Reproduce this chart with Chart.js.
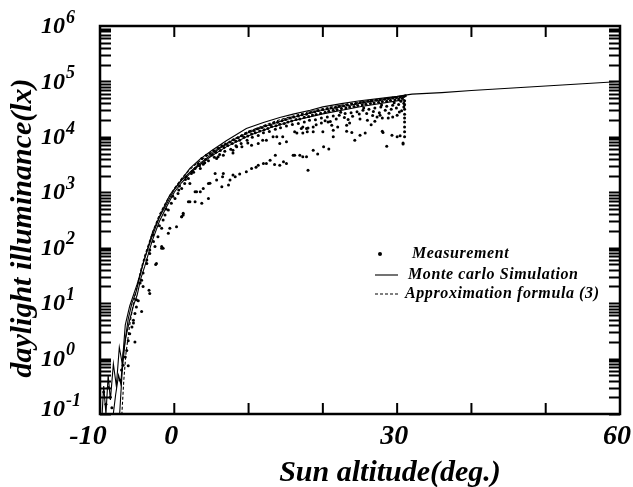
<!DOCTYPE html>
<html>
<head>
<meta charset="utf-8">
<script src="https://cdn.jsdelivr.net/npm/chart.js@4.4.0/dist/chart.umd.min.js"></script>
<style>
  html, body { margin: 0; padding: 0; background: #fff; }
</style>
</head>
<body>
<canvas id="chart" width="633" height="487"></canvas>
<script>
// axis ticks
const xTicks = [-10, 0, 10, 20, 30, 40, 50, 60];
const xLabels = [-10, 0, 30, 60];
const yExponents = [-1, 0, 1, 2, 3, 4, 5, 6];

// measured illuminance [sun altitude (deg), lx]
const measurement = [
  [-9.5, 0.25], [-9.2, 0.15], [-8.9, 0.3], [-8.6, 0.2], [-8.4, 0.13],
  [-7.3, 0.41], [-7.1, 0.62], [-6.9, 0.76], [-6.6, 1.07], [-6.4, 1.4], [-6.2, 2.1], [-6.0, 2.8],
  [-5.7, 3.7], [-5.5, 4.9], [-5.3, 6.5], [-5.1, 8.5], [-4.85, 11],
  [-6.2, 0.74], [-5.3, 2.0], [-4.4, 7.1], [-3.4, 17], [-2.5, 50], [-1.7, 98],
  [-5.5, 4.4], [-5.1, 11.5], [-4.6, 23], [-4.2, 35], [-3.7, 60], [-3.3, 91], [-2.8, 129],
  [-4.2, 20], [-3.3, 15], [-4.4, 26], [-3.7, 52], [-3.3, 79], [-2.4, 52], [-2.6, 105],
  [-1.7, 105], [-2.2, 158], [-1.7, 224], [-1.5, 316], [-1.25, 389], [-0.8, 479], [-0.4, 631],
  [0.1, 776], [0.5, 955], [1.0, 1175], [1.4, 1445], [1.9, 1780], [2.3, 2190], [2.8, 2690],
  [3.2, 3310], [3.7, 4070], [4.3, 4680],
  [-2.9, 170], [-2.0, 250], [-1.1, 500], [-0.2, 850], [0.7, 1300], [1.6, 1900], [2.6, 2300],
  [3.5, 2700], [4.1, 3400],
  [-0.8, 182], [-0.6, 224], [-1.5, 98], [0.3, 240], [1.0, 363], [1.2, 417], [1.9, 676],
  [2.8, 676], [3.7, 631], [4.6, 776], [3.0, 1023], [3.9, 1175], [4.6, 1445], [2.1, 1445],
  [4.8, 5000], [5.3, 5600], [5.9, 6200], [6.4, 6900], [6.9, 7400], [7.5, 8100], [8.0, 8900],
  [8.6, 9600], [9.1, 10500], [9.6, 11500], [10.1, 12300], [10.7, 13000], [11.2, 14000],
  [11.8, 14800], [12.3, 15900], [12.9, 16500], [13.4, 17800], [13.9, 18400], [14.5, 19600],
  [15.0, 20500], [15.6, 21800], [16.1, 22700], [16.7, 23900], [17.2, 25000], [17.8, 25600],
  [18.3, 27500], [18.9, 28300], [19.4, 29800], [20.0, 31200], [20.6, 32000], [21.1, 33500],
  [21.7, 34200], [22.2, 35800], [22.8, 36500], [23.3, 37900], [23.9, 39200], [24.4, 40100],
  [25.0, 41500], [25.5, 42300], [26.1, 43700], [26.6, 44500], [27.2, 45600], [27.7, 46800],
  [28.3, 47900], [28.8, 49000], [29.4, 50300], [29.9, 51400], [30.4, 52600], [30.9, 53700],
  [31.1, 55000],
  [0.6, 1100], [1.5, 1700], [2.4, 2400], [3.4, 3000], [4.2, 3900], [5.1, 4700], [5.6, 5300],
  [6.2, 5700], [6.7, 6400], [7.2, 7000], [7.8, 7600], [8.3, 8300], [8.8, 8700], [9.4, 9800],
  [9.9, 10400], [10.4, 11300], [10.9, 11800], [11.5, 12700], [12.1, 13500], [12.6, 14100],
  [13.1, 15300], [13.7, 15800], [14.2, 16900], [14.8, 17400], [15.3, 18600], [15.8, 19300],
  [16.4, 20500], [16.9, 21100], [17.5, 22600], [18.1, 23300], [18.6, 24700], [19.1, 25400],
  [19.7, 26800], [20.3, 27700], [20.8, 28900], [21.4, 30100], [21.9, 31000], [22.5, 32400],
  [23.1, 33100], [23.6, 34600], [24.2, 35400], [24.7, 36700], [25.3, 37800], [25.8, 38600],
  [26.4, 40100], [26.9, 40800], [27.5, 42200], [28.0, 43400], [28.6, 44100], [29.1, 45900],
  [29.7, 46700], [30.2, 48000], [30.7, 49500],
  [3.9, 3200], [4.6, 3700], [5.4, 4300], [6.1, 4800], [6.8, 5500], [7.6, 6000], [8.3, 6900],
  [9.0, 7600], [9.8, 8700], [10.5, 9800], [11.3, 10600], [12.0, 11800], [12.8, 12500],
  [13.6, 13700], [14.3, 14600], [15.1, 15700], [15.9, 16700], [16.7, 17500], [17.5, 18600],
  [18.2, 19900], [19.0, 20400], [19.8, 21900], [20.6, 22800], [21.4, 23700], [22.2, 24600],
  [23.0, 26500], [23.8, 27200], [24.6, 28400], [25.4, 30100], [26.2, 31500], [27.0, 33000],
  [27.8, 34700], [28.6, 35500], [29.4, 37200], [30.2, 38400], [30.9, 40300],
  [20.3, 19500], [21.8, 21000], [22.9, 22300], [24.0, 23500], [24.9, 25800], [25.9, 26400],
  [26.8, 28700], [27.6, 27300], [28.4, 30200], [29.2, 31600], [29.9, 33100], [30.6, 29500],
  [30.9, 34700], [22.4, 27800], [25.5, 33300], [27.9, 37600], [29.6, 41400], [30.5, 44000],
  [19.1, 16600], [21.0, 19000], [23.4, 20600], [26.7, 24300], [28.9, 26800], [30.3, 28200],
  [31.0, 25700], [31.0, 31600], [31.0, 38000], [31.0, 44700],
  [5.7, 4070], [6.6, 4680], [7.9, 5750], [9.1, 6610], [10.4, 7080], [11.3, 7590], [12.4, 8710],
  [13.8, 10000], [14.2, 7590], [15.1, 8130], [16.2, 12300], [17.1, 14100], [17.8, 14100],
  [8.4, 6610], [9.9, 7760], [11.9, 8710], [13.3, 10000], [14.6, 10000], [16.5, 11700],
  [17.9, 12300], [5.9, 4370], [7.9, 5130],
  [17.3, 15100], [18.0, 14500], [18.7, 15100], [17.3, 11700], [18.7, 12300], [20.0, 12300],
  [21.4, 13200], [19.8, 17800], [20.7, 18600], [21.2, 16200], [22.0, 15100], [23.2, 16200],
  [23.6, 17800], [23.2, 12600], [23.9, 12000], [21.4, 10000], [24.3, 8710], [25.0, 10700],
  [25.7, 11700], [28.0, 12600], [28.1, 12000], [29.3, 10700], [30.0, 10000], [30.4, 10500],
  [30.8, 7410], [30.8, 7760], [31.0, 10000], [31.0, 12300], [31.0, 15100], [31.0, 18600],
  [31.0, 21900], [28.0, 21900], [28.8, 21900], [29.4, 22900], [30.0, 24500], [28.6, 6760],
  [26.0, 20000], [27.0, 19100], [25.0, 20900], [26.5, 16600], [27.3, 22900], [27.7, 24500],
  [1.0, 363], [1.2, 389], [3.5, 1020], [5.7, 1660], [7.9, 2040], [9.7, 2340], [12.4, 3310],
  [14.7, 3550], [16.0, 4680], [17.8, 4370], [18.0, 2510], [17.3, 4370], [18.7, 5750],
  [19.3, 4900], [20.1, 6610], [20.8, 6030], [6.5, 1910], [11.0, 2820], [13.5, 3160],
  [8.8, 2140], [6.6, 2190], [5.5, 2190], [7.5, 1660], [8.2, 1910], [10.4, 2690], [11.3, 3090],
  [12.0, 3310], [12.9, 3800], [13.6, 4680], [14.2, 3090], [15.1, 3310], [16.2, 4680],
  [16.9, 4680], [2.8, 1020], [2.1, 676], [4.8, 1450], [6.4, 1260], [7.3, 1350]
];

// Monte carlo simulation curves [deg, lx]
const simulationA = [
  [-7.4, 0.079], [-7.0, 0.63], [-6.6, 2.2], [-6.2, 5.2], [-5.7, 10], [-5.1, 16.6], [-4.2, 52],
  [-2.9, 195], [-1.7, 447], [-0.6, 891], [0.8, 1580], [2.1, 2700], [3.5, 4000], [5, 5620],
  [7, 8510], [9.7, 14100], [12, 18200], [14.2, 22400], [16, 25700], [18.3, 30200], [20, 34700],
  [22.5, 39800], [25, 44700], [27.5, 49000], [30, 53700], [32, 58900], [36, 62800], [40, 68500],
  [45, 75300], [50, 82800], [55, 91000], [60, 100000]
];
const simulationB = [
  [-9.8, 0.063], [-9.5, 0.32], [-9.2, 0.1], [-8.9, 0.5], [-8.6, 0.18], [-8.2, 0.8], [-7.8, 0.32],
  [-7.4, 1.6], [-7.0, 0.8], [-6.6, 4.0], [-6.0, 8.9], [-5.0, 22], [-4.0, 63], [-3.0, 158],
  [-2.0, 355], [-1.0, 630], [0, 1120], [1, 1660], [2, 2240], [3, 2950], [4, 3800], [6, 6030],
  [8, 8910], [10, 12000], [12, 15100], [14, 18600], [16, 22400], [18, 26300], [20, 30200],
  [22, 33900], [24, 38000], [26, 42700], [28, 46800], [30, 52500], [31, 55000]
];
const simulationC = [
  [-8.3, 0.08], [-7.9, 0.22], [-7.5, 0.5], [-7.2, 0.35], [-6.9, 1.2], [-6.5, 2.5], [-6.0, 5.0],
  [-5.5, 9.0], [-5.0, 14], [-4.5, 28], [-4.0, 45], [-3.0, 130], [-2.0, 300], [-1.0, 560],
  [0, 1000], [1, 1500], [2, 2100], [3, 2800], [4, 3600], [5, 4500], [7, 6600], [10, 10500],
  [13, 14800], [16, 19500], [20, 26000], [25, 35000], [31, 47000]
];

// Approximation formula (3)
const approximation = [
  [-7.1, 0.079], [-6.8, 0.4], [-6.5, 1.26], [-6.0, 4.0], [-5.5, 10], [-5.0, 20], [-4.5, 40],
  [-4.0, 71], [-3.0, 178], [-2.0, 400], [-1.0, 710], [0, 1175], [1, 1780], [2, 2510], [3, 3310],
  [4, 4170], [6, 6310], [8, 9120], [10, 12600], [14, 20000], [18, 28200], [22, 36300],
  [26, 44700], [30, 52500], [31, 54000]
];

const toXY = arr => arr.map(p => ({ x: p[0], y: p[1] }));
const FONT = '"Liberation Serif", "Times New Roman", serif';

const lineSet = (data, dash) => ({
  data: toXY(data),
  showLine: true,
  borderColor: '#000',
  borderWidth: 1.1,
  borderDash: dash || [],
  pointRadius: 0,
  tension: 0
});

const decorations = {
  id: 'decorations',
  afterDraw(chart) {
    const { ctx, chartArea: a, scales: { x, y } } = chart;
    ctx.save();
    ctx.strokeStyle = '#000';
    ctx.fillStyle = '#000';

    // inward ticks
    ctx.lineWidth = 2;
    ctx.beginPath();
    xTicks.forEach(v => {
      const px = x.getPixelForValue(v);
      ctx.moveTo(px, a.bottom); ctx.lineTo(px, a.bottom - 11);
      ctx.moveTo(px, a.top); ctx.lineTo(px, a.top + 11);
    });
    for (let e = -1; e < 6; e++) {
      for (let k = 1; k < 10; k++) {
        const py = Math.round(y.getPixelForValue(k * Math.pow(10, e))) + 0.5;
        ctx.moveTo(a.left, py); ctx.lineTo(a.left + 11, py);
        ctx.moveTo(a.right, py); ctx.lineTo(a.right - 11, py);
      }
    }
    ctx.stroke();

    // frame
    ctx.lineWidth = 2.5;
    ctx.strokeRect(a.left, a.top, a.right - a.left, a.bottom - a.top);

    // y tick labels 10^n
    yExponents.forEach(e => {
      const py = Math.min(y.getPixelForValue(Math.pow(10, e)), a.bottom - 5);
      ctx.font = 'italic bold 24px ' + FONT;
      ctx.textAlign = 'right';
      ctx.textBaseline = 'middle';
      ctx.fillText('10', 65, py + 1);
      ctx.font = 'italic bold 18px ' + FONT;
      ctx.textAlign = 'left';
      ctx.fillText(String(e), 66, py - 8);
    });

    // x tick labels
    ctx.font = 'italic bold 28px ' + FONT;
    ctx.textAlign = 'center';
    ctx.textBaseline = 'middle';
    xLabels.forEach(v => {
      let px = x.getPixelForValue(v) - 3;
      if (v === xTicks[0]) px -= 9;
      ctx.fillText(String(v), px, a.bottom + 23);
    });

    // axis titles
    ctx.font = 'italic bold 30px ' + FONT;
    ctx.fillText('Sun altitude(deg.)', 390, 473);
    ctx.save();
    ctx.translate(23, 228);
    ctx.rotate(-Math.PI / 2);
    ctx.fillText('daylight illuminance(lx)', 0, 0);
    ctx.restore();

    // legend
    ctx.font = 'italic bold 16px ' + FONT;
    ctx.letterSpacing = '0.6px';
    ctx.textAlign = 'left';
    ctx.beginPath();
    ctx.arc(380, 254, 2, 0, Math.PI * 2);
    ctx.fill();
    ctx.fillText('Measurement', 412, 254);
    ctx.lineWidth = 1.1;
    ctx.beginPath();
    ctx.moveTo(375, 275); ctx.lineTo(398, 275);
    ctx.stroke();
    ctx.fillText('Monte carlo Simulation', 408, 275);
    ctx.setLineDash([3, 2]);
    ctx.beginPath();
    ctx.moveTo(375, 294); ctx.lineTo(398, 294);
    ctx.stroke();
    ctx.setLineDash([]);
    ctx.fillText('Approximation formula (3)', 405, 294);
    ctx.restore();
  }
};

new Chart(document.getElementById('chart'), {
  type: 'scatter',
  data: {
    datasets: [
      {
        data: toXY(measurement),
        showLine: false,
        pointRadius: 1.5,
        pointBorderWidth: 0,
        pointBackgroundColor: '#000',
        pointHoverRadius: 1.5
      },
      lineSet(simulationA),
      lineSet(simulationB),
      lineSet(simulationC),
      lineSet(approximation, [3, 2])
    ]
  },
  options: {
    responsive: false,
    animation: false,
    devicePixelRatio: 1,
    layout: { padding: { left: 100, top: 26, right: 13, bottom: 73 } },
    plugins: { legend: { display: false }, tooltip: { enabled: false } },
    scales: {
      x: { type: 'linear', min: -10, max: 60, display: false },
      y: { type: 'logarithmic', min: 0.1, max: 1000000, display: false }
    }
  },
  plugins: [decorations]
});
</script>
</body>
</html>
